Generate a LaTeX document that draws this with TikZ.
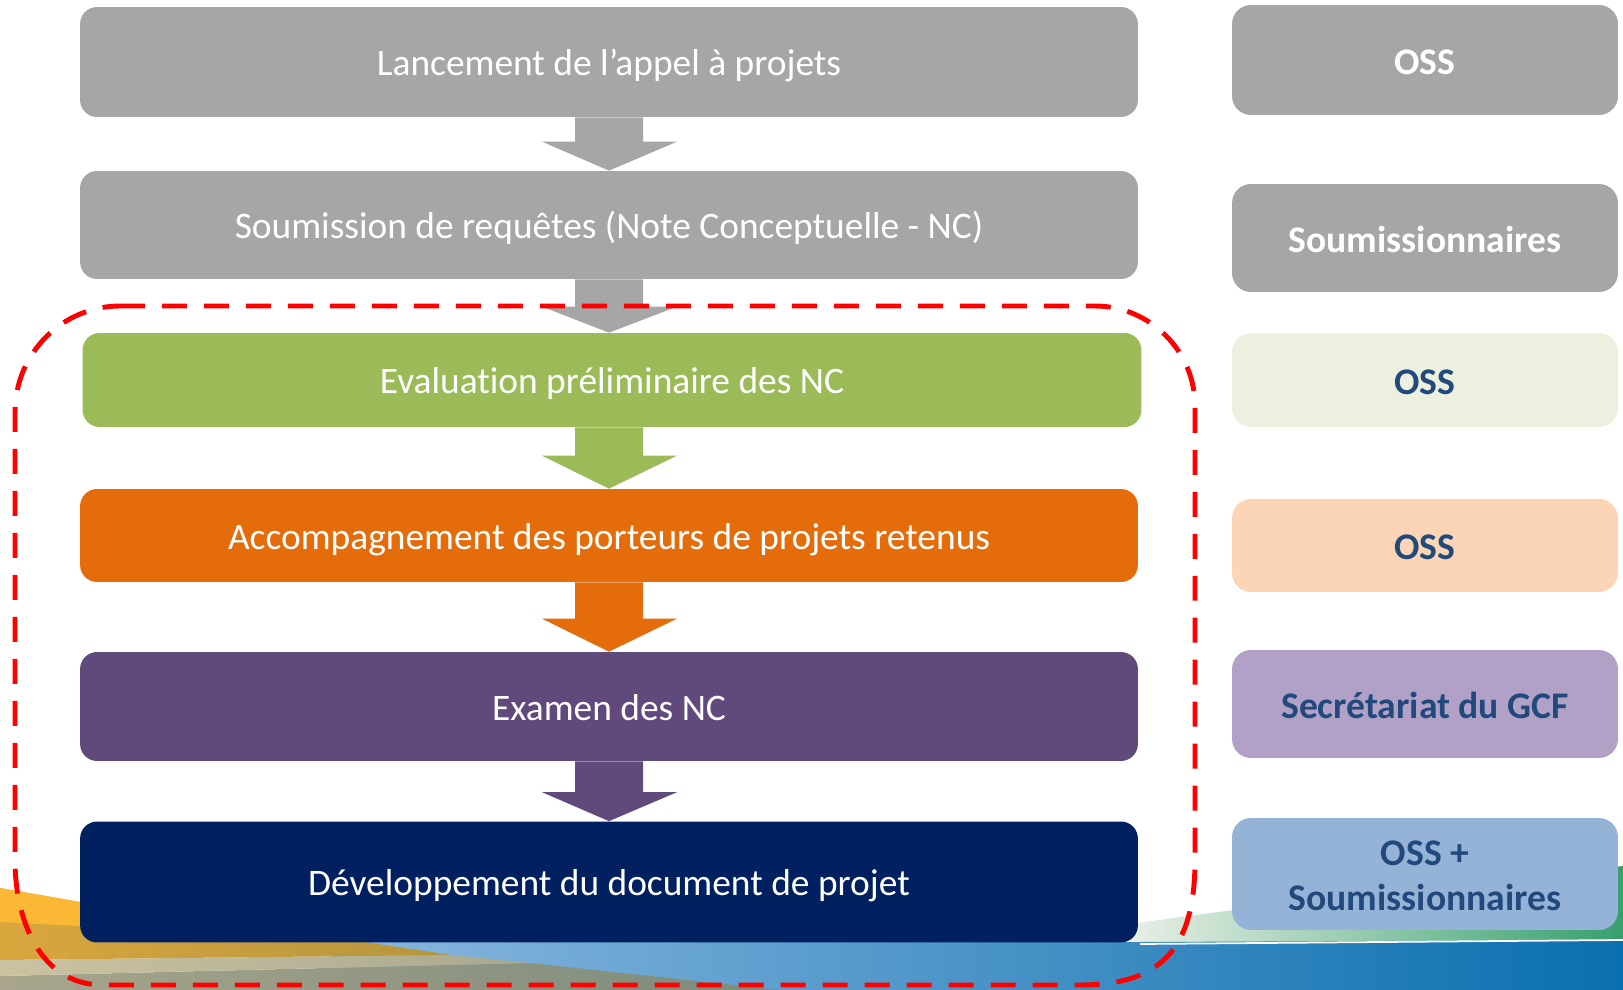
\documentclass[tikz,border=0pt]{standalone}
\usepackage{fontspec}
\setmainfont{Carlito}[Ligatures=NoCommon]
\usetikzlibrary{calc}
\definecolor{cgray}{HTML}{A6A6A6}
\definecolor{cgreen}{HTML}{9BBB59}
\definecolor{corange}{HTML}{E46C0A}
\definecolor{cpurple}{HTML}{604A7B}
\definecolor{cnavy}{HTML}{002060}
\definecolor{rgreen}{HTML}{EBF1DE}
\definecolor{rorange}{HTML}{FBD5B5}
\definecolor{rpurple}{HTML}{B2A1C7}
\definecolor{rblue}{HTML}{95B3D7}
\definecolor{rtext}{HTML}{22497C}
\definecolor{dashred}{HTML}{FF0000}
\definecolor{goldA}{HTML}{D9A63E}
\definecolor{goldB}{HTML}{B5963E}
\definecolor{goldTop}{HTML}{FAB834}
\definecolor{beigeA}{HTML}{CBC3A2}
\definecolor{beigeB}{HTML}{A9A98F}
\definecolor{grayA}{HTML}{A8A58C}
\definecolor{grayB}{HTML}{7C8B7C}
\definecolor{blueA}{HTML}{8AB8E0}
\definecolor{blueB}{HTML}{0A6FAE}
\definecolor{greenA}{HTML}{E8EFE6}
\definecolor{greenB}{HTML}{36A06E}
\newcommand\flowarrow[4]{%
  \coordinate (fs) at (#2.south -| axis);
  \coordinate (ft) at (#3.north -| axis);
  \fill[#1] ($(fs)+(-34,0)$) -- ($(ft)+(-34,-#4)$) -- ($(ft)+(-67,-#4)$) -- (ft)
    -- ($(ft)+(68,-#4)$) -- ($(ft)+(34,-#4)$) -- ($(fs)+(34,0)$) -- cycle;}
\begin{document}
\begin{tikzpicture}[x=0.02cm,y=-0.02cm,
  stepbox/.style={rounded corners=0.34cm, minimum width=21.16cm, inner sep=0pt,
    text=white, font=\fontsize{21.3}{25}\selectfont, text height=17.5pt, text depth=1.8pt},
  rolebox/.style={rounded corners=0.38cm, minimum width=7.72cm, inner sep=0pt,
    font=\fontsize{21.4}{25.5}\selectfont\bfseries, text height=17.8pt, text depth=1.8pt}]
\useasboundingbox (0,0) rectangle (1623,990);
\fill[white] (0,0) rectangle (1623,990);
% background decoration
\shade[left color=greenA, right color=greenB] (1130,946) -- (1130,924) .. controls (1300,900) and (1450,885) .. (1623,866) -- (1623,946) -- cycle;
\shade[left color=blueA, right color=blueB] (330,942) -- (1140,942) -- (1623,940) -- (1623,990) -- (330,990) -- cycle;
\draw[white, line width=1pt] (1140,944) -- (1623,940);
\shade[left color=grayA, right color=grayB] (0,976) -- (530,963) -- (780,990) -- (0,990) -- cycle;
\shade[left color=beigeA, right color=beigeB] (0,960) -- (451,955) -- (530,963) -- (0,976) -- cycle;
\shade[left color=goldA, right color=goldB] (0,888) -- (80,902) -- (365,942) -- (451,955) -- (0,960) -- cycle;
\fill[goldTop] (0,888) -- (80,902) -- (80,926) -- (0,922) -- cycle;
\coordinate (axis) at (609,0);
% left column
\node[stepbox, fill=cgray, minimum height=2.2cm] (L1) at (609,62) {Lancement de l’appel à projets};
\node[stepbox, fill=cgray, minimum height=2.16cm] (L2) at (609,225) {Soumission de requêtes (Note Conceptuelle - NC)};
\node[stepbox, fill=cgreen, minimum height=1.88cm, minimum width=21.18cm] (L3) at (612,380) {Evaluation préliminaire des NC};
\node[stepbox, fill=corange, minimum height=1.86cm] (L4) at (609,535.5) {Accompagnement des porteurs de projets retenus};
\node[stepbox, fill=cpurple, minimum height=2.18cm] (L5) at (609,706.5) {Examen des NC};
\node[stepbox, fill=cnavy, minimum height=2.42cm] (L6) at (609,882) {Développement du document de projet};
% right column
\node[rolebox, fill=cgray, text=white, minimum height=2.2cm] (R1) at (1425,60) {OSS};
\node[rolebox, fill=cgray, text=white, minimum height=2.16cm] (R2) at (1425,238) {Soumissionnaires};
\node[rolebox, fill=rgreen, text=rtext, minimum height=1.88cm] (R3) at (1425,380) {OSS};
\node[rolebox, fill=rorange, text=rtext, minimum height=1.86cm] (R4) at (1425,545.5) {OSS};
\node[rolebox, fill=rpurple, text=rtext, minimum height=2.16cm] (R5) at (1425,704) {Secrétariat du GCF};
\node[rolebox, fill=rblue, text=rtext, minimum height=2.24cm, align=center, text height=, text depth=] (R6) at (1425,874) {\rule{0pt}{16pt}OSS +\\Soumissionnaires};
% arrows
\flowarrow{cgray}{L1}{L2}{29}
\flowarrow{cgray}{L2}{L3}{26}
\flowarrow{cgreen}{L3}{L4}{33}
\flowarrow{corange}{L4}{L5}{33}
\flowarrow{cpurple}{L5}{L6}{29}
% dashed frame
\draw[dashred, line width=2.8pt, dash pattern=on 0.5cm off 0.34cm]
  (120,306) -- (1095,306) .. controls (1150,306) and (1195,351) .. (1195,406)
  -- (1195,860) .. controls (1195,950) and (1160,985) .. (1080,985)
  -- (103,985) .. controls (40,985) and (15,920) .. (15,860)
  -- (15,412) .. controls (15,354) and (62,306) .. (120,306);
\end{tikzpicture}
\end{document}
